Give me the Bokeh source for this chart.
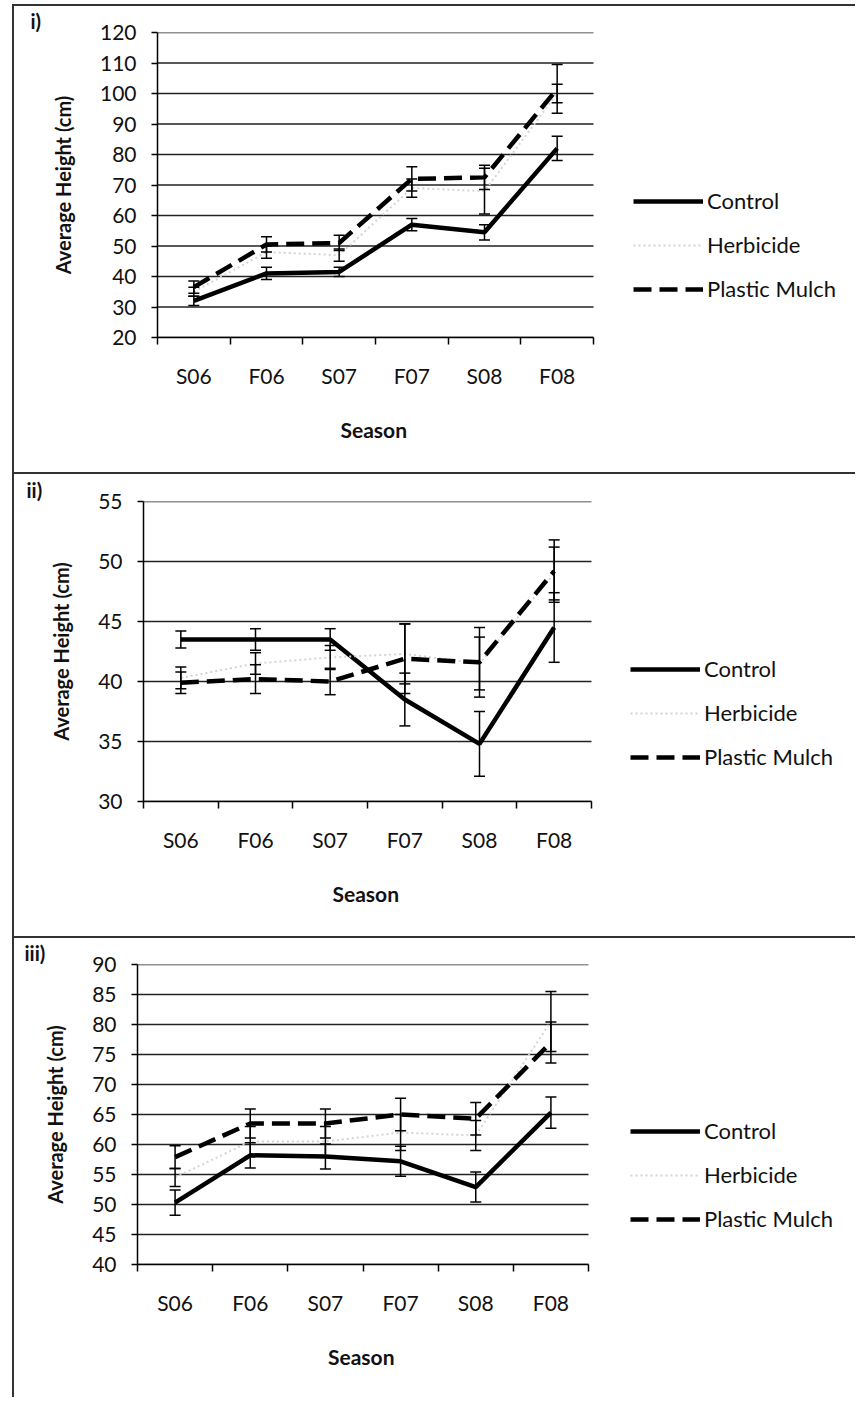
from bokeh.plotting import figure
from bokeh.models import (Range1d, FixedTicker, Legend, LegendItem, Whisker,
                          ColumnDataSource, TeeHead, Title)
from bokeh.embed import file_html
from bokeh.resources import INLINE

seasons = ["S06", "F06", "S07", "F07", "S08", "F08"]
series_names = ["Control", "Herbicide", "Plastic Mulch"]

# Panel i
control_i = [32, 41, 41.5, 57, 54.5, 82]
control_i_err = [1.5, 2, 1.5, 2, 2.5, 4]
herbicide_i = [35, 48, 47, 69, 68, 100]
herbicide_i_err = [1.5, 2, 2, 3, 7.5, 3]
plastic_i = [36.5, 50.5, 51, 72, 72.5, 101.5]
plastic_i_err = [2, 2.5, 2.5, 4, 4, 8]

# Panel ii
control_ii = [43.5, 43.5, 43.5, 38.5, 34.8, 44.5]
control_ii_err = [0.7, 0.9, 0.9, 2.2, 2.7, 2.9]
herbicide_ii = [40.3, 41.5, 42.0, 42.3, 41.5, 49.0]
herbicide_ii_err = [0.9, 0.9, 1.0, 2.5, 2.2, 2.2]
plastic_ii = [39.9, 40.2, 40.0, 41.9, 41.6, 49.2]
plastic_ii_err = [0.9, 1.2, 1.1, 2.9, 2.9, 2.6]

# Panel iii
control_iii = [50.3, 58.2, 58.0, 57.2, 52.9, 65.3]
control_iii_err = [2.1, 2.1, 2.1, 2.5, 2.5, 2.6]
herbicide_iii = [54.5, 60.5, 60.5, 62.0, 61.5, 80.5]
herbicide_iii_err = [1.5, 2.5, 2.5, 3.0, 2.5, 5.0]
plastic_iii = [57.9, 63.5, 63.5, 65.0, 64.3, 77.0]
plastic_iii_err = [1.9, 2.4, 2.4, 2.7, 2.7, 3.4]

y_ticks_i = list(range(20, 121, 10))
y_ticks_ii = list(range(30, 56, 5))
y_ticks_iii = list(range(40, 91, 5))

FONT = "Lato"
W = 857
B = 2    # css border width
ML = 12  # left margin of the scanned frame
SEASON_W = 70  # approx. rendered width of the x-axis title


def make_panel(tag, data, yticks, H, mt, ftop, fbot, fleft, fright, leg_x, leg_bottom, tag_x):
    dx = ML + B
    dy = mt + B
    Hc = H - dy
    Wc = W - dx
    ftop, fbot, leg_bottom = ftop - dy, fbot - dy, leg_bottom - dy
    fleft, fright, leg_x, tag_x = fleft - dx, fright - dx, leg_x - dx, tag_x - dx
    n = len(seasons)
    frame_right = Wc - 4
    ppu = (fright - fleft) / n
    x_end = (frame_right - fleft) / ppu

    p = figure(width=Wc, height=Hc, output_backend="svg", toolbar_location=None,
               x_range=Range1d(0, x_end), y_range=Range1d(yticks[0], yticks[-1]),
               min_border_left=fleft, min_border_right=Wc - frame_right,
               min_border_top=ftop, min_border_bottom=Hc - fbot,
               background_fill_color="white", border_fill_color="white",
               outline_line_color=None,
               styles={"border-top": f"{B}px solid #333", "border-left": f"{B}px solid #333",
                       "margin-left": f"{ML}px", "margin-top": f"{mt}px"})
    xs = [i + 0.5 for i in range(n)]

    # panel tag
    p.title.text = tag
    p.title.align = "left"
    p.title.offset = tag_x - fleft
    p.title.standoff = 0
    p.title.text_font = FONT
    p.title.text_font_size = "20px"
    p.title.text_font_style = "bold"
    p.title.text_color = "#111111"

    xa = p.xaxis[0]
    xa.bounds = (0, n)
    xa.ticker = FixedTicker(ticks=xs, minor_ticks=list(range(n + 1)))
    xa.major_label_overrides = {x: s for x, s in zip(xs, seasons)}
    xa.major_tick_out = 0
    xa.major_tick_in = 0
    xa.minor_tick_out = 7
    xa.minor_tick_in = 0
    xa.minor_tick_line_color = "black"
    xa.minor_tick_line_width = 1.5
    xa.axis_line_color = "black"
    xa.axis_line_width = 1.5
    xa.major_label_standoff = 18

    ya = p.yaxis[0]
    ya.ticker = FixedTicker(ticks=yticks)
    ya.major_tick_out = 6
    ya.major_tick_in = 0
    ya.major_tick_line_color = "black"
    ya.major_tick_line_width = 1.5
    ya.minor_tick_line_color = None
    ya.axis_line_color = "black"
    ya.axis_line_width = 1.5
    ya.axis_label = "Average Height (cm)"
    ya.major_label_standoff = 15
    ya.axis_label_standoff = 22
    ya.axis_label_text_font = FONT
    ya.axis_label_text_font_size = "20px"
    ya.axis_label_text_font_style = "bold"
    ya.axis_label_text_color = "#111111"

    for ax in (xa, ya):
        ax.major_label_text_font = FONT
        ax.major_label_text_font_size = "21px"
        ax.major_label_text_color = "#111111"

    # x-axis title centred under the category span
    season_left = (fleft + fright) / 2 - SEASON_W / 2
    p.add_layout(Title(text="Season", align="left", offset=season_left - fleft,
                       vertical_align="top", standoff=53,
                       text_font=FONT, text_font_size="21px", text_font_style="bold",
                       text_color="#111111"), "below")

    p.xgrid.grid_line_color = None
    p.ygrid.grid_line_color = None
    p.segment(x0=[0] * len(yticks), x1=[n] * len(yticks), y0=yticks, y1=yticks,
              line_color="#222222", line_width=1.3)

    styles = [
        dict(line_color="black", line_width=4.5, line_dash="solid"),
        dict(line_color="#d4d4d4", line_width=2, line_dash="2 3"),
        dict(line_color="black", line_width=4.5, line_dash="18 8"),
    ]
    renderers = []
    for (vals, errs), st in zip(data, styles):
        src = ColumnDataSource(dict(x=xs, y=vals,
                                    upper=[v + e for v, e in zip(vals, errs)],
                                    lower=[v - e for v, e in zip(vals, errs)]))
        r = p.line("x", "y", source=src, **st)
        renderers.append(r)
        wk = Whisker(source=src, base="x", upper="upper", lower="lower",
                     line_color="black", line_width=1.5, level="overlay",
                     upper_head=TeeHead(size=11, line_color="black", line_width=1.5),
                     lower_head=TeeHead(size=11, line_color="black", line_width=1.5))
        p.add_layout(wk)

    legend = Legend(items=[LegendItem(label=nm, renderers=[r]) for nm, r in zip(series_names, renderers)],
                    location=(leg_x - fleft, fbot - leg_bottom),
                    glyph_width=70, glyph_height=20, label_height=20, spacing=17,
                    label_standoff=4, padding=0, margin=0,
                    border_line_color=None, background_fill_alpha=0,
                    label_text_font=FONT, label_text_font_size="22px",
                    label_text_color="#111111")
    p.add_layout(legend)
    return p


p1 = make_panel("i)", [(control_i, control_i_err), (herbicide_i, herbicide_i_err), (plastic_i, plastic_i_err)],
                y_ticks_i, 474, 4, 32, 337, 157, 593, 633, 302, 30)
p2 = make_panel("ii)", [(control_ii, control_ii_err), (herbicide_ii, herbicide_ii_err), (plastic_ii, plastic_ii_err)],
                y_ticks_ii, 466, 0, 29, 329, 143, 591, 630, 298, 26)
p3 = make_panel("iii)", [(control_iii, control_iii_err), (herbicide_iii, herbicide_iii_err), (plastic_iii, plastic_iii_err)],
                y_ticks_iii, 463, 0, 23, 328, 137, 588, 630, 296, 24)

open("out.html", "w").write(file_html([p1, p2, p3], INLINE))
